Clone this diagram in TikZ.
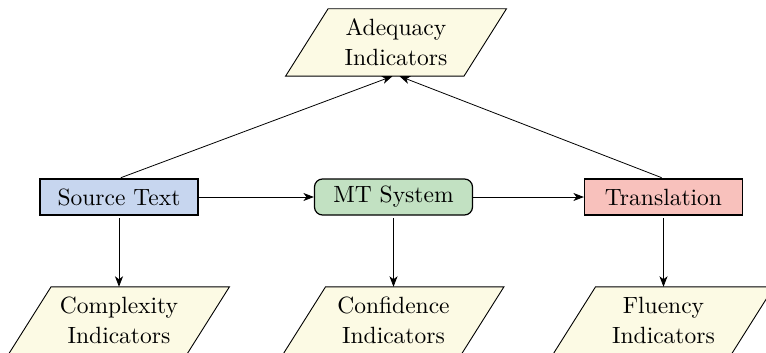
\documentclass[tikz,border=0pt]{standalone}
\usepackage{fontspec}
% 10pt design size of Latin Modern, scaled up, for a darker text colour
\setmainfont{lmroman10-regular.otf}
\usetikzlibrary{arrows.meta,backgrounds,calc}

\definecolor{ivory}{HTML}{FCFAE4}
\definecolor{srcblue}{HTML}{C7D6EF}
\definecolor{mtgreen}{HTML}{C2E1C2}
\definecolor{trpink}{HTML}{F8C1BC}

\tikzset{
  every node/.style={font=\fontsize{23.5}{30}\selectfont},
  stagebox/.style={draw=black, line width=1.2pt, minimum width=158pt,
    minimum height=36pt, inner sep=0pt},
  indicator/.style={minimum width=178pt, minimum height=67pt,
    align=center, inner sep=0pt},
  slanted/.style={draw=black, line width=0.9pt, fill=ivory, line join=miter},
  flow/.style={draw=black, line width=0.8pt,
    -{Stealth[length=10.5pt,width=8pt,inset=3pt]}},
}

% parallelogram behind an indicator node
\newcommand{\slantbox}[1]{%
  \path[slanted] ($(#1.north west)+(21.25,0)$) -- ($(#1.north east)+(21.25,0)$)
    -- ($(#1.south east)+(-21.25,0)$) -- ($(#1.south west)+(-21.25,0)$) -- cycle;}

\begin{document}
\begin{tikzpicture}[x=1pt,y=-1pt]
  \useasboundingbox (0,0) rectangle (766,353);

  % pipeline stages
  \node[stagebox, fill=srcblue] (src) at (119,197) {Source Text};
  \node[stagebox, fill=mtgreen, rounded corners=8pt] (mt) at (393.5,197) {MT System};
  \node[stagebox, fill=trpink] (tr) at (663.5,197) {Translation};

  % indicator groups
  \node[indicator] (adeq) at (396,42.5) {Adequacy\\Indicators};
  \node[indicator] (cplx) at (119,320.5) {Complexity\\Indicators};
  \node[indicator] (conf) at (393.5,320.5) {Confidence\\Indicators};
  \node[indicator] (flu) at (663.5,320.5) {Fluency\\Indicators};

  \begin{scope}[on background layer]
    \slantbox{adeq}
    \slantbox{cplx}
    \slantbox{conf}
    \slantbox{flu}
  \end{scope}

  % main flow
  \draw[flow] (src.east) -- (mt.west);
  \draw[flow] (mt.east) -- (tr.west);

  % adequacy compares source and translation
  \draw[flow, shorten <=2pt] (src.north) -- ([xshift=-3.5pt]adeq.south);
  \draw[flow, shorten <=2pt] (tr.north) -- ([xshift=3.5pt]adeq.south);

  % per-stage indicators
  \draw[flow, shorten <=2.5pt] (src.south) -- (cplx.north);
  \draw[flow, shorten <=2.5pt] (mt.south) -- (conf.north);
  \draw[flow, shorten <=2.5pt] (tr.south) -- (flu.north);
\end{tikzpicture}
\end{document}
